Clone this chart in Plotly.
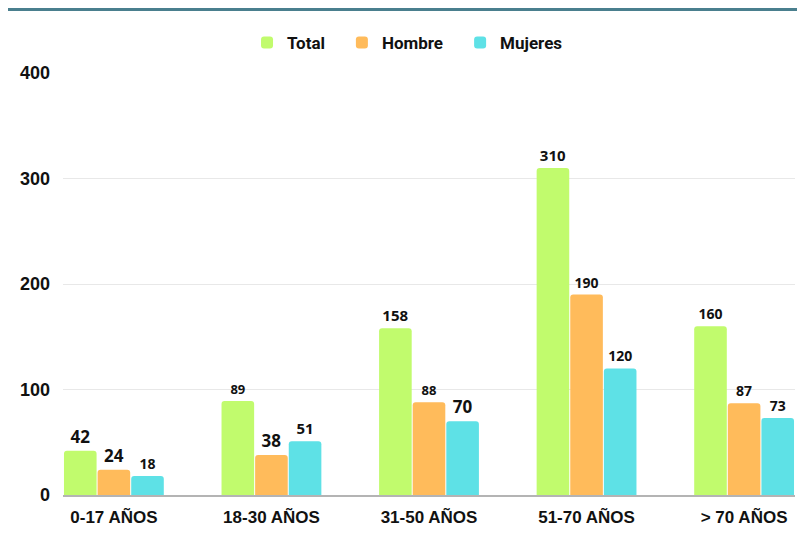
import plotly.graph_objects as go

categories = ["0-17 AÑOS", "18-30 AÑOS", "31-50 AÑOS", "51-70 AÑOS", "> 70 AÑOS"]
total = [42, 89, 158, 310, 160]
hombre = [24, 38, 88, 190, 87]
mujeres = [18, 51, 70, 120, 73]
y_ticks = [0, 100, 200, 300, 400]

# per-label font sizes as seen in the reference
total_sizes = [17, 13, 15, 15, 14]
hombre_sizes = [17, 17, 13, 14, 14]
mujeres_sizes = [14, 15, 17, 14, 14]

colors = {"Total": "#c1fb6d", "Hombre": "#ffbb5b", "Mujeres": "#5ee1e6"}
legend_ids = {"Total": "legend", "Hombre": "legend2", "Mujeres": "legend3"}
legend_x = {"legend": 0.2514, "legend2": 0.381, "legend3": 0.5425}

fig = go.Figure()
for name, vals, sizes in [("Total", total, total_sizes),
                          ("Hombre", hombre, hombre_sizes),
                          ("Mujeres", mujeres, mujeres_sizes)]:
    fig.add_trace(go.Bar(
        name=name, x=categories, y=vals, legend=legend_ids[name],
        marker=dict(color=colors[name], line=dict(width=0)),
        text=[str(v) for v in vals], textposition="outside",
        textfont=dict(family="Open Sans", size=sizes, color="#111111", weight="bold"),
        cliponaxis=False,
    ))

legend_font = dict(family="Roboto", size=17, color="#111111", weight="bold")
legends = {}
for lid, lx in legend_x.items():
    legends[lid] = dict(orientation="h", x=lx, xanchor="left", y=1.071, yanchor="middle",
                        font=legend_font, bgcolor="rgba(0,0,0,0)", borderwidth=0)

fig.update_layout(
    width=797, height=529,
    margin=dict(l=55, r=10, t=65, b=42),
    paper_bgcolor="white", plot_bgcolor="white",
    barmode="group", bargap=0.36, bargroupgap=0.03,
    barcornerradius=3,
    showlegend=True,
    **legends,
    xaxis=dict(range=[-0.323, 4.323], showgrid=False, showline=True, linecolor="#b4b4b4",
               linewidth=1.5, ticks="", ticklabelstandoff=6,
               tickfont=dict(family="Liberation Sans", size=17, color="#111111", weight="bold")),
    yaxis=dict(range=[0, 400], tickvals=y_ticks, showgrid=True, gridcolor="#e8e8e8",
               gridwidth=1, zeroline=False, showline=False, ticks="", ticklabelstandoff=12,
               tickfont=dict(family="Liberation Sans", size=18, color="#111111", weight="bold")),
    shapes=[
        dict(type="rect", xref="paper", yref="paper", x0=-0.1, x1=1.02,
             y0=(487 + 65 - 3) / 422 - 65 / 422 + 0.0, y1=1.2,
             fillcolor="#4a7f8e", line=dict(width=0), layer="above"),
    ],
)

fig.write_html("out.html")
